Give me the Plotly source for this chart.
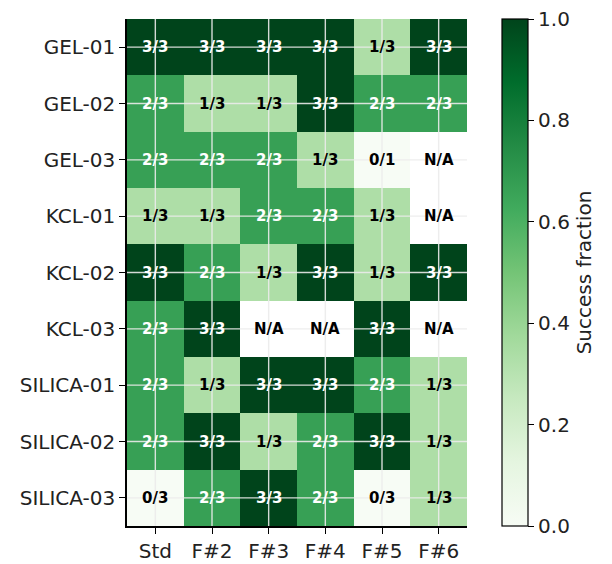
import plotly.graph_objects as go
import plotly.express as px

columns = ["Std", "F#2", "F#3", "F#4", "F#5", "F#6"]
rows = ["GEL-01", "GEL-02", "GEL-03", "KCL-01", "KCL-02", "KCL-03",
        "SILICA-01", "SILICA-02", "SILICA-03"]

# success counts / trials ; None = N/A
successes = [
    [3, 3, 3, 3, 1, 3],
    [2, 1, 1, 3, 2, 2],
    [2, 2, 2, 1, 0, None],
    [1, 1, 2, 2, 1, None],
    [3, 2, 1, 3, 1, 3],
    [2, 3, None, None, 3, None],
    [2, 1, 3, 3, 2, 1],
    [2, 3, 1, 2, 3, 1],
    [0, 2, 3, 2, 0, 1],
]
trials = [
    [3, 3, 3, 3, 3, 3],
    [3, 3, 3, 3, 3, 3],
    [3, 3, 3, 3, 1, None],
    [3, 3, 3, 3, 3, None],
    [3, 3, 3, 3, 3, 3],
    [3, 3, None, None, 3, None],
    [3, 3, 3, 3, 3, 3],
    [3, 3, 3, 3, 3, 3],
    [3, 3, 3, 3, 3, 3],
]

z = []
for sr, tr in zip(successes, trials):
    z.append([None if s is None else s / t for s, t in zip(sr, tr)])

xi = list(range(len(columns)))
yi = list(range(len(rows)))

FS = 20

fig = go.Figure()
fig.add_trace(go.Heatmap(
    z=z, x=xi, y=yi, zmin=0, zmax=1,
    colorscale=px.colors.sequential.Greens,
    hoverongaps=False,
    colorbar=dict(
        title=dict(text="Success fraction", side="right",
                   font=dict(family="DejaVu Sans", size=FS, color="#222")),
        thickness=26, thicknessmode="pixels",
        len=1, lenmode="fraction", y=0.5, yanchor="middle",
        x=1.103, xanchor="left", xpad=0, ypad=0,
        outlinewidth=1.2, outlinecolor="black",
        ticks="outside", ticklen=6, tickwidth=1.2, tickcolor="black",
        tickvals=[0, 0.2, 0.4, 0.6, 0.8, 1.0],
        ticktext=["0.0", "0.2", "0.4", "0.6", "0.8", "1.0"],
        ticklabeloverflow="allow",
        tickfont=dict(family="DejaVu Sans", size=FS, color="#222"),
    ),
))

shapes = []
for i in xi:
    shapes.append(dict(type="line", xref="x", yref="paper", x0=i, x1=i, y0=0, y1=1,
                       line=dict(color="rgba(235,235,235,0.9)", width=1.4), layer="above"))
for j in yi:
    shapes.append(dict(type="line", xref="paper", yref="y", x0=0, x1=1, y0=j, y1=j,
                       line=dict(color="rgba(235,235,235,0.9)", width=1.4), layer="above"))

annotations = []
for j, (sr, tr) in enumerate(zip(successes, trials)):
    for i, (s, t) in enumerate(zip(sr, tr)):
        if s is None:
            txt, col = "N/A", "black"
        else:
            txt = f"{s}/{t}"
            col = "white" if s / t > 0.5 else "black"
        annotations.append(dict(x=i, y=j, xref="x", yref="y", text=f"<b>{txt}</b>",
                                showarrow=False,
                                font=dict(family="DejaVu Sans", size=15, color=col)))

fig.update_layout(
    width=604, height=556,
    margin=dict(l=119, r=145, t=11, b=38, autoexpand=False),
    paper_bgcolor="white", plot_bgcolor="white",
    shapes=shapes, annotations=annotations,
    font=dict(family="DejaVu Sans", size=FS, color="#222"),
    xaxis=dict(tickvals=xi, ticktext=columns, range=[-0.5, len(columns) - 0.5],
               showgrid=False, zeroline=False, showline=True, linecolor="black",
               linewidth=1.5, ticks="outside", ticklen=6, tickwidth=1.2,
               tickcolor="black", tickfont=dict(size=FS), automargin=False),
    yaxis=dict(tickvals=yi, ticktext=rows, range=[len(rows) - 0.5, -0.5],
               showgrid=False, zeroline=False, showline=True, linecolor="black",
               linewidth=1.5, ticks="outside", ticklen=6, tickwidth=1.2,
               tickcolor="black", tickfont=dict(size=FS), automargin=False),
)

fig.write_html("out.html")
